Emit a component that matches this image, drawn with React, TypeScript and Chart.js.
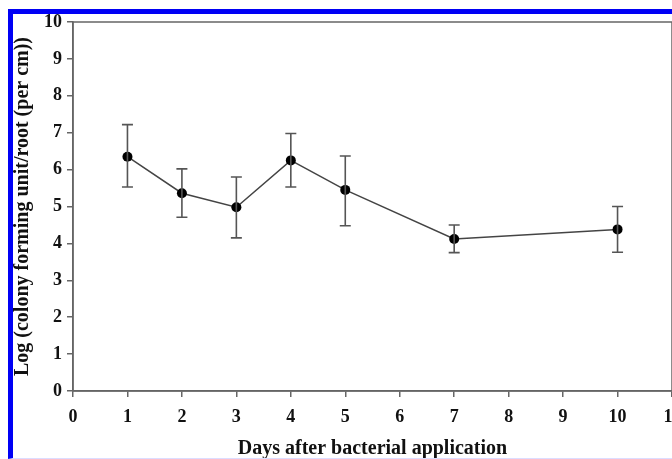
import React, { useEffect, useRef } from "react";
import { Chart, registerables } from "chart.js";

Chart.register(...registerables);

const days = [1, 2, 3, 4, 5, 7, 10];
const meanLog = [6.35, 5.36, 4.98, 6.25, 5.45, 4.12, 4.38];
const upperLog = [7.22, 6.02, 5.8, 6.98, 6.37, 4.5, 5.0];
const lowerLog = [5.53, 4.71, 4.15, 5.53, 4.48, 3.75, 3.76];

const xTitle = "Days after bacterial application";
const yTitle = "Log (colony forming unit/root (per cm))";

const FONT = "'Liberation Serif', 'Times New Roman', serif";

const errorBarPlugin = {
  id: "errorBars",
  afterDatasetsDraw(chart: any) {
    const { ctx, scales } = chart;
    const xs = scales.x;
    const ys = scales.y;
    ctx.save();
    ctx.strokeStyle = "#555";
    ctx.lineWidth = 1.6;
    days.forEach((d, i) => {
      const x = xs.getPixelForValue(d);
      const yt = ys.getPixelForValue(upperLog[i]);
      const yb = ys.getPixelForValue(lowerLog[i]);
      ctx.beginPath();
      ctx.moveTo(x, yt);
      ctx.lineTo(x, yb);
      ctx.moveTo(x - 5.5, yt);
      ctx.lineTo(x + 5.5, yt);
      ctx.moveTo(x - 5.5, yb);
      ctx.lineTo(x + 5.5, yb);
      ctx.stroke();
    });
    ctx.restore();
  },
  afterDraw(chart: any) {
    const { ctx, chartArea } = chart;
    ctx.save();
    ctx.strokeStyle = "#666";
    ctx.lineWidth = 1.5;
    ctx.strokeRect(chartArea.left, chartArea.top, chartArea.right - chartArea.left, chartArea.bottom - chartArea.top);
    ctx.restore();
  },
};

export default function App() {
  const ref = useRef<HTMLCanvasElement | null>(null);

  useEffect(() => {
    if (!ref.current) return;
    const chart = new Chart(ref.current, {
      type: "line",
      data: {
        datasets: [
          {
            data: days.map((d, i) => ({ x: d, y: meanLog[i] })),
            borderColor: "#444",
            borderWidth: 1.5,
            pointRadius: 5,
            pointBackgroundColor: "#000",
            pointBorderColor: "#000",
            pointBorderWidth: 0,
            tension: 0,
          },
        ],
      },
      plugins: [errorBarPlugin],
      options: {
        responsive: false,
        animation: false,
        events: [],
        layout: { padding: { top: 8, right: 61, left: 0, bottom: 0 } },
        plugins: { legend: { display: false }, tooltip: { enabled: false } },
        scales: {
          x: {
            type: "linear",
            min: 0,
            max: 11,
            afterFit: (s: any) => {
              s.height = 68;
              s.paddingLeft = 0;
              s.paddingRight = 0;
            },
            ticks: {
              stepSize: 1,
              color: "#111",
              padding: 10,
              font: { family: FONT, size: 18, weight: "bold" },
            },
            grid: { drawOnChartArea: false, tickLength: 6, color: "#666", lineWidth: 1.5 },
            border: { display: true, color: "#666", width: 1.5 },
            title: {
              display: true,
              text: xTitle,
              color: "#111",
              padding: 0,
              font: { family: FONT, size: 20, weight: "bold", lineHeight: 1 },
            },
          },
          y: {
            min: 0,
            max: 10,
            afterFit: (s: any) => {
              s.width = 60;
              s.paddingTop = 0;
              s.paddingBottom = 0;
            },
            ticks: {
              stepSize: 1,
              color: "#111",
              padding: 5,
              font: { family: FONT, size: 18, weight: "bold" },
            },
            grid: { drawOnChartArea: false, tickLength: 6, color: "#666", lineWidth: 1.5 },
            border: { display: true, color: "#666", width: 1.5 },
            title: {
              display: true,
              text: yTitle,
              color: "#111",
              padding: 0,
              font: { family: FONT, size: 20, weight: "bold", lineHeight: 1 },
            },
          },
        },
      },
    } as any);
    return () => chart.destroy();
  }, []);

  return (
    <div
      style={{
        position: "absolute",
        left: 8,
        top: 9,
        width: 664,
        height: 450,
        overflow: "hidden",
        boxSizing: "border-box",
        borderTop: "5px solid #0000f5",
        borderLeft: "5px solid #0000f5",
        borderBottom: "1px solid #dcdcff",
        background: "#fff",
      }}
    >
      <canvas ref={ref} width={720} height={445} style={{ display: "block", width: 720, height: 445 }} />
    </div>
  );
}
